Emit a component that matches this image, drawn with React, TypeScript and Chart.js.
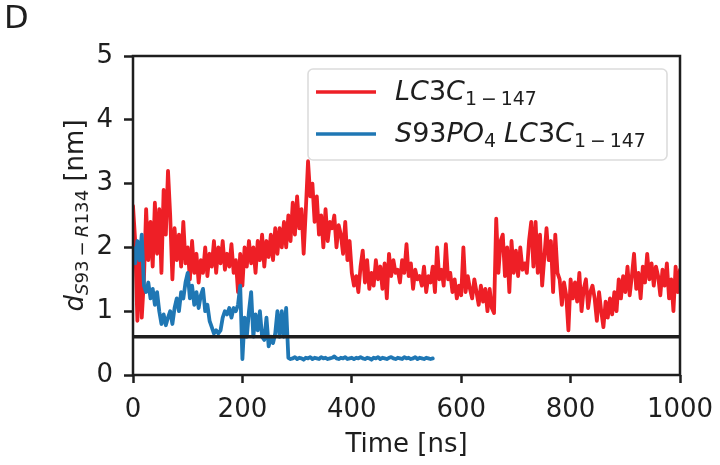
import React, { useEffect, useRef } from 'react';
import { Chart, registerables } from 'chart.js';

Chart.register(...registerables);

// ---- data ----
const TIME_STEP_NS = 4;

// LC3C 1-147 distance trace (nm), sampled every 4 ns from 0 to 1000 ns
const redValues = [
  2.65, 2.1, 0.85, 1.9, 0.9, 1.5, 2.6, 1.8, 2.4, 1.7,
  2.7, 1.9, 2.6, 1.6, 2.9, 2.2, 3.2, 2.5, 1.5, 2.3,
  1.8, 2.2, 1.7, 2.4, 1.75, 2.0, 1.5, 2.1, 1.6, 1.9,
  1.45, 1.8, 1.6, 2.0, 1.55, 1.9, 1.7, 2.1, 1.6, 2.0,
  1.75, 2.1, 1.65, 1.9, 1.7, 2.05, 1.6, 1.8, 1.3, 1.9,
  1.4, 2.0, 1.7, 2.1, 1.75, 2.0, 1.6, 2.1, 1.8, 2.2,
  1.7, 2.1, 1.85, 2.2, 1.8, 2.3, 1.9, 2.3, 2.0, 2.4,
  2.0, 2.5, 2.1, 2.7, 2.2, 2.8, 2.3, 2.6, 1.9, 2.6,
  3.35, 2.8, 3.0, 2.4, 2.8, 2.2, 2.5, 2.0, 2.6, 2.1,
  2.4, 2.3, 2.5, 2.0, 2.35, 2.2, 1.9, 2.4, 1.8, 2.1,
  1.6, 1.4, 1.55, 1.3, 1.7, 1.95, 1.45, 1.8, 1.35, 1.6,
  1.4, 1.8, 1.5, 1.7, 1.35, 1.75, 1.2, 1.9, 1.55, 1.8,
  1.6, 1.65, 1.45, 1.8, 1.6, 2.05, 1.55, 1.75, 1.35, 1.65,
  1.5, 1.55, 1.4, 1.7, 1.3, 1.55, 1.45, 1.7, 1.3, 2.0,
  1.5, 1.65, 1.4, 2.05, 1.5, 1.6, 1.3, 1.5, 1.2, 1.4,
  1.25, 2.0, 1.3, 1.55, 1.35, 1.2, 1.5, 1.3, 1.1, 1.4,
  1.15, 1.35, 1.0, 1.35, 1.05, 0.97, 2.45, 1.6, 2.1, 2.2,
  1.55, 2.0, 1.3, 2.1, 1.6, 1.95, 1.55, 2.0, 1.65, 1.75,
  1.6, 2.1, 2.4, 1.7, 2.4, 1.6, 2.2, 1.4, 1.85, 2.3,
  1.8, 2.1, 1.3, 2.2, 1.6, 1.5, 1.1, 1.45, 1.25, 0.7,
  1.5, 1.2, 1.45, 1.15, 1.6, 1.0, 1.35, 1.5, 1.05, 1.3,
  1.4, 1.2, 0.85, 1.3, 1.0, 0.75, 1.15, 0.9, 1.2, 0.95,
  1.3, 1.0, 1.5, 1.2, 1.55, 1.3, 1.7, 1.25, 1.55, 1.9,
  1.35, 1.6, 1.2, 1.7, 1.45, 1.9, 1.5, 1.75, 1.4, 1.7,
  1.55, 1.25, 1.65, 1.4, 1.75, 1.2, 1.5, 1.0, 1.7, 1.3,
  1.65,
];

// S93PO4 LC3C 1-147 distance trace (nm), sampled every 4 ns from 0 to 548 ns
const blueValues = [
  2.0, 1.75, 2.1, 1.8, 2.2, 1.4, 1.3, 1.45, 1.2, 1.35,
  1.1, 1.3, 1.0, 0.8, 0.95, 0.78, 0.9, 1.0, 0.8, 1.05,
  1.2, 1.0, 1.3, 1.2, 1.45, 1.6, 1.2, 1.4, 1.1, 1.3,
  1.05, 1.25, 1.35, 1.0, 1.1, 0.85, 0.75, 0.65, 0.7, 0.65,
  0.7, 0.9, 1.0, 0.95, 1.05, 0.9, 1.05, 1.0, 1.1, 1.4,
  0.25, 0.9, 0.6, 1.0, 1.3, 0.6, 0.95, 0.7, 1.0, 0.6,
  0.55, 0.9, 0.45, 0.6, 0.5, 0.65, 1.0, 0.6, 1.0, 0.6,
  1.05,
  0.27, 0.25, 0.26, 0.28, 0.25, 0.27, 0.26, 0.24, 0.27, 0.26,
  0.28, 0.25, 0.27, 0.26, 0.25, 0.28, 0.26, 0.27, 0.25, 0.26,
  0.27, 0.29, 0.26, 0.25, 0.27, 0.26, 0.28, 0.25, 0.26, 0.27,
  0.25, 0.27, 0.26, 0.28, 0.26, 0.25, 0.27, 0.26, 0.24, 0.27,
  0.26, 0.28, 0.25, 0.27, 0.26, 0.25, 0.27, 0.28, 0.26, 0.25,
  0.27, 0.26, 0.25, 0.28, 0.26, 0.27, 0.25, 0.26, 0.28, 0.25,
  0.27, 0.26, 0.25, 0.27, 0.26, 0.25, 0.26,
];

const thresholdValue = 0.6;
const thresholdTimes = [0, 1000];
const xTickValues = [0, 200, 400, 600, 800, 1000];
const yTickValues = [0, 1, 2, 3, 4, 5];

const RED = '#ee1f26';
const BLUE = '#1f77b4';
const INK = '#1e1e1e';
const FONT = '"DejaVu Sans", sans-serif';

type Run = { t: string; it?: boolean; sub?: boolean; gap?: number };

function setFont(ctx: CanvasRenderingContext2D, r: Run, size: number) {
  const s = r.sub ? size * 0.7 : size;
  ctx.font = `${r.it ? 'italic ' : ''}${s}px ${FONT}`;
}

function runsWidth(ctx: CanvasRenderingContext2D, runs: Run[], size: number) {
  let w = 0;
  for (const r of runs) {
    setFont(ctx, r, size);
    w += ctx.measureText(r.t).width + (r.gap || 0);
  }
  return w;
}

function drawRuns(ctx: CanvasRenderingContext2D, x: number, y: number, runs: Run[], size: number) {
  ctx.textAlign = 'left';
  ctx.textBaseline = 'alphabetic';
  for (const r of runs) {
    setFont(ctx, r, size);
    const dy = r.sub ? size * 0.2 : 0;
    ctx.fillText(r.t, x, y + dy);
    x += ctx.measureText(r.t).width + (r.gap || 0);
  }
}

const subRange: Run[] = [
  { t: '1', sub: true, gap: 4 },
  { t: '\u2212', sub: true, gap: 4 },
  { t: '147', sub: true },
];

const label1: Run[] = [
  { t: 'L', it: true }, { t: 'C', it: true }, { t: '3' }, { t: 'C', it: true },
  ...subRange,
];
const label2: Run[] = [
  { t: 'S', it: true }, { t: '93' }, { t: 'P', it: true }, { t: 'O', it: true },
  { t: '4', sub: true, gap: 8 },
  { t: 'L', it: true }, { t: 'C', it: true }, { t: '3' }, { t: 'C', it: true },
  ...subRange,
];
const yTitle: Run[] = [
  { t: 'd', it: true },
  { t: 'S', it: true, sub: true }, { t: '93', sub: true, gap: 4 },
  { t: '\u2212', sub: true, gap: 4 },
  { t: 'R', it: true, sub: true }, { t: '134', sub: true },
  { t: ' [nm]' },
];

const decorPlugin = {
  id: 'decor',
  afterDraw(chart: any) {
    const ctx: CanvasRenderingContext2D = chart.ctx;
    const a = chart.chartArea;
    ctx.save();

    // frame
    ctx.strokeStyle = INK;
    ctx.lineWidth = 2.5;
    ctx.strokeRect(a.left, a.top, a.right - a.left, a.bottom - a.top);

    // legend
    const lx = 308, ly = 69, lw = 359, lh = 91, rad = 5;
    ctx.beginPath();
    ctx.moveTo(lx + rad, ly);
    ctx.arcTo(lx + lw, ly, lx + lw, ly + lh, rad);
    ctx.arcTo(lx + lw, ly + lh, lx, ly + lh, rad);
    ctx.arcTo(lx, ly + lh, lx, ly, rad);
    ctx.arcTo(lx, ly, lx + lw, ly, rad);
    ctx.closePath();
    ctx.fillStyle = 'rgba(255,255,255,0.85)';
    ctx.fill();
    ctx.strokeStyle = '#dcdcdc';
    ctx.lineWidth = 1.6;
    ctx.stroke();

    ctx.lineWidth = 3.5;
    ctx.strokeStyle = RED;
    ctx.beginPath(); ctx.moveTo(316, 92); ctx.lineTo(376, 92); ctx.stroke();
    ctx.strokeStyle = BLUE;
    ctx.beginPath(); ctx.moveTo(316, 134); ctx.lineTo(376, 134); ctx.stroke();

    ctx.fillStyle = INK;
    drawRuns(ctx, 395, 100, label1, 27);
    drawRuns(ctx, 395, 142, label2, 27);

    // x title
    ctx.font = `26px ${FONT}`;
    ctx.textAlign = 'center';
    ctx.textBaseline = 'alphabetic';
    ctx.fillText('Time [ns]', (a.left + a.right) / 2, 452);

    // y title
    const w = runsWidth(ctx, yTitle, 26);
    ctx.save();
    ctx.translate(83, (a.top + a.bottom) / 2);
    ctx.rotate(-Math.PI / 2);
    drawRuns(ctx, -w / 2, 0, yTitle, 26);
    ctx.restore();

    // panel letter
    ctx.font = `32px ${FONT}`;
    ctx.textAlign = 'left';
    ctx.fillText('D', 4, 28);

    ctx.restore();
  },
};

export default function App() {
  const ref = useRef<HTMLCanvasElement | null>(null);

  useEffect(() => {
    document.body.style.margin = '0';
    const canvas = ref.current;
    if (!canvas) return;

    const redData = redValues.map((v, i) => ({ x: i * TIME_STEP_NS, y: v }));
    const blueData = blueValues.map((v, i) => ({ x: i * TIME_STEP_NS, y: v }));
    const thrData = thresholdTimes.map((t) => ({ x: t, y: thresholdValue }));

    const tickFont = { family: FONT, size: 26 };
    const lineStyle = { pointRadius: 0, borderJoinStyle: 'round' as const, borderCapStyle: 'round' as const };

    const chart = new Chart(canvas, {
      type: 'line',
      data: {
        datasets: [
          { label: 'threshold', data: thrData, borderColor: INK, borderWidth: 3.5, pointRadius: 0, order: 0 },
          { label: 'S93PO4 LC3C1-147', data: blueData, borderColor: BLUE, borderWidth: 3.8, order: 1, ...lineStyle },
          { label: 'LC3C1-147', data: redData, borderColor: RED, borderWidth: 3.8, order: 2, ...lineStyle },
        ],
      },
      options: {
        animation: false,
        responsive: false,
        events: [],
        layout: { padding: { top: 56, right: 40, left: 0, bottom: 0 } },
        plugins: { legend: { display: false }, tooltip: { enabled: false } },
        scales: {
          x: {
            type: 'linear',
            min: 0,
            max: 1000,
            afterBuildTicks: (s: any) => { s.ticks = xTickValues.map((v) => ({ value: v })); },
            afterFit: (s: any) => { s.height = 90; s.paddingLeft = 0; s.paddingRight = 0; },
            grid: { drawOnChartArea: false, tickLength: 8, tickWidth: 2.5, tickColor: INK },
            border: { display: false },
            ticks: {
              font: tickFont, color: INK, padding: 12, maxRotation: 0, autoSkip: false,
              callback: (v: any) => String(v),
            },
          },
          y: {
            type: 'linear',
            min: 0,
            max: 5,
            afterBuildTicks: (s: any) => { s.ticks = yTickValues.map((v) => ({ value: v })); },
            afterFit: (s: any) => { s.width = 133; s.paddingTop = 0; s.paddingBottom = 0; },
            grid: { drawOnChartArea: false, tickLength: 9, tickWidth: 2.5, tickColor: INK },
            border: { display: false },
            ticks: { font: tickFont, color: INK, padding: 11, autoSkip: false, callback: (v: any) => String(v) },
          },
        },
      },
      plugins: [decorPlugin],
    });

    return () => chart.destroy();
  }, []);

  return (
    <div style={{ width: 720, height: 465 }}>
      <canvas ref={ref} width={720} height={465} style={{ display: 'block' }} />
    </div>
  );
}
